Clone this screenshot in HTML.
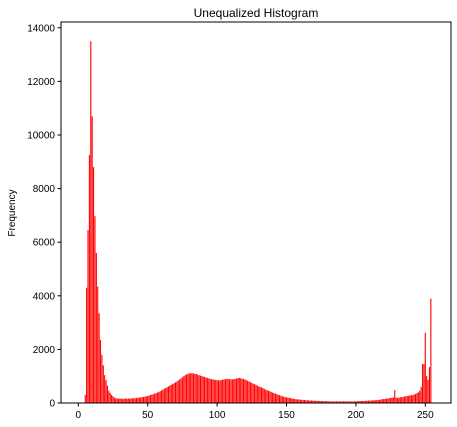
<!DOCTYPE html>
<html><head><meta charset="utf-8"><style>
body{margin:0;background:#fff;}
svg{display:block;font-family:"Liberation Sans","DejaVu Sans",sans-serif;}
</style></head><body>
<svg id="chart" width="457" height="427">
<text x="256" y="17" text-anchor="middle" font-size="12">Unequalized Histogram</text>
<text transform="translate(15,213) rotate(-90)" text-anchor="middle" font-size="10">Frequency</text>
<g id="bars"></g>
<g id="axes"></g>
<rect x="61" y="22" width="390" height="381" fill="none" stroke="#000" stroke-width="1"/>
</svg>
<script>
const xTicks=[0,50,100,150,200,250];
const yTicks=[0,2000,4000,6000,8000,10000,12000,14000];
const counts=[
0,0,0,0,0,300,4300,6450,9250,13500,10700,8800,6970,5600,4340,3350,
2350,1800,1400,1040,850,650,460,380,300,250,200,180,170,160,170,160,
150,160,170,160,170,160,170,175,180,180,190,200,200,210,220,230,
240,250,260,280,300,310,330,350,370,390,410,440,470,500,530,560,
590,620,650,680,710,740,770,800,840,880,920,960,1000,1040,1070,1090,
1100,1110,1110,1100,1090,1080,1060,1040,1020,1000,990,970,950,940,920,900,
890,880,870,860,850,850,840,860,870,880,890,900,900,890,880,880,
890,900,910,930,940,920,910,900,880,860,830,800,780,750,720,700,
680,650,620,600,580,560,530,500,480,460,440,410,390,370,350,330,
310,290,270,250,240,220,210,200,190,180,170,160,150,140,135,130,
125,120,115,110,105,100,100,95,90,90,85,85,80,80,75,75,
70,70,70,65,65,60,60,60,60,60,60,60,60,60,60,60,
60,60,60,60,60,60,60,60,60,65,70,70,75,75,80,80,
85,90,90,95,100,100,105,110,110,120,130,140,150,150,160,170,
180,190,200,210,480,200,190,200,210,220,230,240,250,260,270,280,
290,300,320,340,370,400,450,600,1450,1450,2620,1000,860,1340,3900,0];
const NS="http://www.w3.org/2000/svg";
const x0=78.3, xs=1.388, yb=403, ys=0.0268;
const xPos=v=>x0+v*xs;
const yPos=v=>yb-v*ys;
const bars=document.getElementById('bars');
counts.forEach((c,i)=>{
  if(!c)return;
  const r=document.createElementNS(NS,'rect');
  r.setAttribute('x',xPos(i)-xs*0.4);
  r.setAttribute('width',xs*0.8);
  r.setAttribute('y',yPos(c));
  r.setAttribute('height',c*ys);
  r.setAttribute('fill','#ff0000');
  
  
  bars.appendChild(r);
});
const ax=document.getElementById('axes');
xTicks.forEach(t=>{
  const l=document.createElementNS(NS,'line');
  l.setAttribute('x1',xPos(t));l.setAttribute('x2',xPos(t));
  l.setAttribute('y1',403);l.setAttribute('y2',406.5);l.setAttribute('stroke','#000');
  
  
  ax.appendChild(l);
  const tx=document.createElementNS(NS,'text');
  tx.setAttribute('x',xPos(t));tx.setAttribute('y',418);
  tx.setAttribute('text-anchor','middle');tx.setAttribute('font-size','10');
  tx.textContent=t;
  
  
  ax.appendChild(tx);
});
yTicks.forEach(t=>{
  const l=document.createElementNS(NS,'line');
  l.setAttribute('x1',57.5);l.setAttribute('x2',61);
  l.setAttribute('y1',yPos(t));l.setAttribute('y2',yPos(t));l.setAttribute('stroke','#000');
  
  
  ax.appendChild(l);
  const tx=document.createElementNS(NS,'text');
  tx.setAttribute('x',55);tx.setAttribute('y',yPos(t)+3.5);
  tx.setAttribute('text-anchor','end');tx.setAttribute('font-size','10');
  tx.textContent=t;
  
  
  ax.appendChild(tx);
});
</script>
</body></html>
